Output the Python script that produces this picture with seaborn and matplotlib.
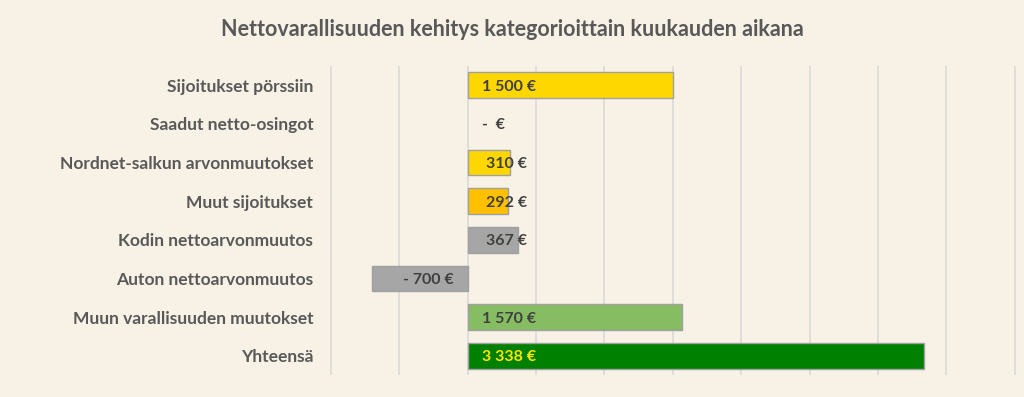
import numpy as np
import pandas as pd
import matplotlib
matplotlib.use('Agg')
import matplotlib.pyplot as plt
import seaborn as sns

categories = ['Sijoitukset pörssiin', 'Saadut netto-osingot', 'Nordnet-salkun arvonmuutokset',
              'Muut sijoitukset', 'Kodin nettoarvonmuutos', 'Auton nettoarvonmuutos',
              'Muun varallisuuden muutokset', 'Yhteensä']
values = [1500, 0, 310, 292, 367, -700, 1570, 3338]
bar_colors = ['#FFD700', '#FFD700', '#FFD700', '#FFC000', '#A6A6A6', '#A6A6A6', '#86BC62', '#008000']
label_colors = ['#404040'] * 7 + ['#FFE600']
title = 'Nettovarallisuuden kehitys kategorioittain kuukauden aikana'

bg = '#F7F1E6'
txt = '#595959'

def fmt_eur(v):
    if v == 0:
        return '-  €'
    s = f'{abs(v):,}'.replace(',', ' ')
    if v < 0:
        return f'- {s} €'
    return s + ' €'

df = pd.DataFrame({'cat': categories, 'val': values})

sns.set_style('white')
plt.rcParams['font.family'] = ['Lato', 'DejaVu Sans']

fig = plt.figure(figsize=(10.24, 3.97), dpi=100, facecolor=bg)
ax = fig.add_axes([0.3223, 0.055, 0.6695, 0.779])
ax.set_facecolor(bg)

sns.barplot(data=df, y='cat', x='val', hue='cat', palette=dict(zip(categories, bar_colors)),
            legend=False, orient='h', width=0.67, saturation=1, edgecolor='#A0A0A0',
            linewidth=1.0, ax=ax, zorder=3)
# no outline for empty bars
for p in ax.patches:
    if p.get_width() == 0:
        p.set_linewidth(0)

ax.set_xlim(-1005, 4005)
ax.set_ylim(7.5, -0.5)
ax.set_xticks(np.arange(-1000, 4001, 500))
ax.xaxis.grid(True, color='#D9D9D9', linewidth=1.2, zorder=0)
ax.set_axisbelow(True)
ax.tick_params(axis='x', length=0, labelbottom=False)
ax.tick_params(axis='y', length=0, pad=12, labelsize=12.5, labelcolor=txt)
for lab in ax.get_yticklabels():
    lab.set_fontweight('bold')
ax.set_xlabel('')
ax.set_ylabel('')
for sp in ax.spines.values():
    sp.set_visible(False)

for i, v in enumerate(values):
    s = fmt_eur(v)
    if v < 0:
        ax.annotate(s, (0, i), xytext=(-10, 0), textcoords='offset points', ha='right',
                    va='center_baseline', fontsize=11.5, fontweight='bold',
                    color=label_colors[i], zorder=5)
    else:
        off = 14 if (v >= 1000 or v == 0) else 18
        ax.annotate(s, (0, i), xytext=(off * 0.72, 0), textcoords='offset points', ha='left',
                    va='center_baseline', fontsize=11.5, fontweight='bold',
                    color=label_colors[i], zorder=5)

fig.text(0.5, 0.925, title, ha='center', va='center', fontsize=15.5, fontweight='bold', color=txt)

fig.savefig('out.png', dpi=100, facecolor=bg)
